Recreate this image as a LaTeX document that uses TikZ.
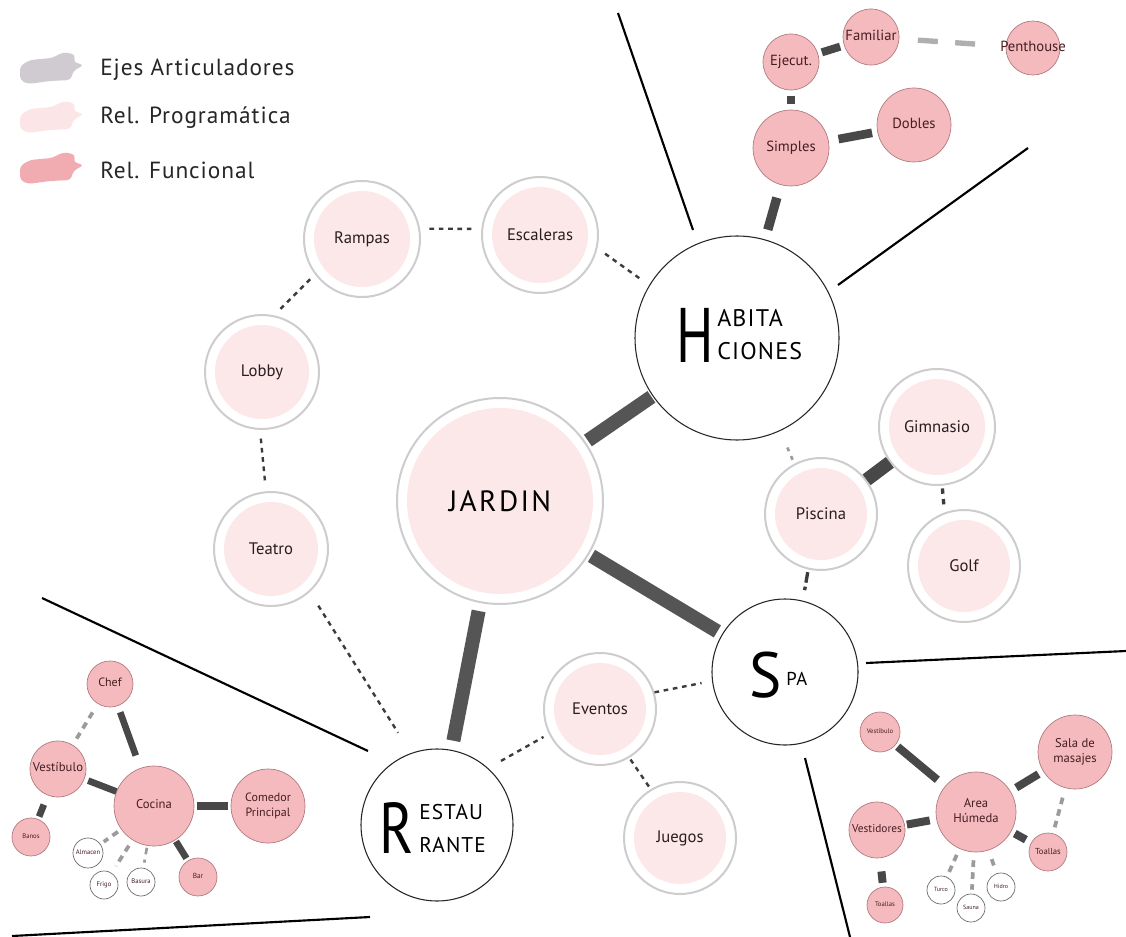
\documentclass[tikz,border=0pt]{standalone}
\usepackage{fontspec}
\setmainfont{PT Sans}
\definecolor{pinkfill}{RGB}{252,231,233}
\definecolor{ringgray}{RGB}{205,205,205}
\definecolor{pinksolid}{RGB}{244,186,189}
\definecolor{pinkedge}{RGB}{175,120,125}
\definecolor{axisgray}{RGB}{85,85,85}
\definecolor{bargray}{RGB}{72,72,72}
\definecolor{dashdark}{RGB}{60,60,60}
\definecolor{dashlight}{RGB}{155,155,155}
\definecolor{txt}{RGB}{40,30,32}
\definecolor{maroon}{RGB}{70,30,35}
\definecolor{leggray}{RGB}{208,203,208}
\definecolor{legpinkl}{RGB}{252,229,231}
\definecolor{legpink}{RGB}{240,172,177}
\newcommand\zt[1]{\makebox[0pt]{\begin{tabular}{@{}c@{}}#1\end{tabular}}}
\begin{document}
\begin{tikzpicture}[x=0.75pt,y=-0.75pt,
  ring/.style={circle, inner sep=0pt, minimum size={1.5pt*#1}, draw=ringgray, line width=1.5pt, fill=white, text=txt,
    font=\fontsize{12.5}{14}\selectfont,
    path picture={\fill[pinkfill] (path picture bounding box.center) circle[radius={0.75pt*(#1-10)}];}},
  bigc/.style={circle, inner sep=0pt, minimum size={1.5pt*#1}, draw=black!85, line width=0.8pt, fill=white},
  sol/.style={circle, inner sep=0pt, minimum size={1.5pt*#1}, draw=pinkedge, line width=0.5pt, fill=pinksolid, text=maroon},
  wsol/.style={circle, inner sep=0pt, minimum size={1.5pt*#1}, draw=black!60, line width=0.5pt, fill=white, text=maroon},
  axis/.style={draw=axisgray, line width=10.5pt},
  bar/.style={draw=bargray, line width=#1},
  prog/.style={draw=dashdark, line width=1.8pt, dash pattern=on 3.5pt off 3.5pt},
  lightdash/.style={draw=dashlight, line width=2.8pt, dash pattern=on 5pt off 4pt},
  sector/.style={draw=black, line width=1.6pt},
  legtext/.style={anchor=west, inner sep=0pt, text=black!85, font=\fontsize{17.5}{19}\selectfont\addfontfeature{LetterSpace=4}},
  bigletter/.style={inner sep=0pt, text=black},
  smallcaps/.style={anchor=west, inner sep=0pt, text=black, font=\fontsize{18}{18}\selectfont\addfontfeature{LetterSpace=5}}
]
\useasboundingbox (0,0) rectangle (1126,937);
\fill[white] (0,0) rectangle (1126,937);

% legend
\fill[leggray, rounded corners=3pt] (20,66) -- (30,60) -- (52,58) -- (64,52) -- (76,55) -- (73,62) -- (84,65) -- (73,71) -- (71,80) -- (50,81) -- (28,84) -- (20,80) -- cycle;
\begin{scope}[shift={(0,49)}]
\fill[legpinkl, rounded corners=3pt] (20,66) -- (30,60) -- (52,58) -- (64,52) -- (76,55) -- (73,62) -- (84,65) -- (73,71) -- (71,80) -- (50,81) -- (28,84) -- (20,80) -- cycle;
\end{scope}
\begin{scope}[shift={(0,100)}]
\fill[legpink, rounded corners=3pt] (20,66) -- (30,60) -- (52,58) -- (64,52) -- (76,55) -- (73,62) -- (84,65) -- (73,71) -- (71,80) -- (50,81) -- (28,84) -- (20,80) -- cycle;
\end{scope}
\node[legtext] (leg1) at (100,70) {Ejes Articuladores};
\node[legtext] (leg2) at (100,118) {Rel. Programática};
\node[legtext] (leg3) at (100,170) {Rel. Funcional};

% sector lines
\draw[sector] (618,13) -- (693,230);
\draw[sector] (838,285) -- (1028,148);
\draw[sector] (866,663) -- (1126,651);
\draw[sector] (805,758) -- (850,937);
\draw[sector] (42,598) -- (368,751);
\draw[sector] (12,936) -- (370,917);

% main nodes
\node[bigc=102] (hab) at (737,338) {};
\node[bigc=73] (spa) at (785,672) {};
\node[bigc=76] (rest) at (437,825) {};
\node[ring=103, font=\fontsize{22}{26}\selectfont\addfontfeature{LetterSpace=8}, text=black] (jardin) at (500,501) {JARDIN};

\node[bigletter, font=\fontsize{58}{58}\selectfont] (habH) at (695,335) {\scalebox{0.72}[1]{H}};
\node[smallcaps] (habA) at (717,318.5) {ABITA};
\node[smallcaps] (habC) at (717,351) {CIONES};
\node[bigletter, font=\fontsize{48}{48}\selectfont] (spaS) at (766,675) {\scalebox{0.95}[1]{S}};
\node[smallcaps, font=\fontsize{14}{14}\selectfont\addfontfeature{LetterSpace=5}] (spaP) at (786,679) {PA};
\node[bigletter, font=\fontsize{54}{54}\selectfont] (restR) at (397,828) {\scalebox{0.8}[1]{R}};
\node[smallcaps, font=\fontsize{16}{16}\selectfont\addfontfeature{LetterSpace=5}] (restE) at (419,812.5) {ESTAU};
\node[smallcaps, font=\fontsize{16}{16}\selectfont\addfontfeature{LetterSpace=5}] (restN) at (419,845.5) {RANTE};

% programmatic rings
\node[ring=58] (rampas) at (362,239) {Rampas};
\node[ring=58] (escaleras) at (540,235) {Escaleras};
\node[ring=57] (lobby) at (262,372) {Lobby};
\node[ring=57] (teatro) at (271,549) {Teatro};
\node[ring=56] (eventos) at (600,709) {Eventos};
\node[ring=56] (juegos) at (680,838) {Juegos};
\node[ring=56] (piscina) at (821,514) {Piscina};
\node[ring=58] (gimnasio) at (937,427) {Gimnasio};
\node[ring=56] (golf) at (964,566) {Golf};

% habitaciones cluster
\begin{scope}[every node/.append style={font=\fontsize{11}{12}\selectfont}]
\node[sol=28] (familiar) at (871,37) {\zt{Familiar}};
\node[sol=28] (ejecut) at (791,62) {\zt{Ejecut.}};
\node[sol=38] (simples) at (791,148) {\zt{Simples}};
\node[sol=37] (dobles) at (914,125) {\zt{Dobles}};
\node[sol=27] (penthouse) at (1033,48) {\zt{Penthouse}};
\end{scope}

% restaurante cluster
\node[sol=23, font=\fontsize{9}{10}\selectfont] (chef) at (110,684) {\zt{Chef}};
\node[sol=28, font=\fontsize{9.5}{11}\selectfont] (vestr) at (58,769) {\zt{Vestíbulo}};
\node[sol=40, font=\fontsize{9.5}{11}\selectfont] (cocina) at (154,806) {\zt{Cocina}};
\node[sol=37, font=\fontsize{9}{11}\selectfont] (comedor) at (268,806) {\zt{Comedor\\Principal}};
\node[sol=19, font=\fontsize{5}{6}\selectfont] (banos) at (31,837) {\zt{Banos}};
\node[sol=19, font=\fontsize{5.5}{6}\selectfont] (bar) at (198,877) {\zt{Bar}};
\node[wsol=15, font=\fontsize{5}{6}\selectfont] (almacen) at (88,853) {\zt{Almacen}};
\node[wsol=14, font=\fontsize{5}{6}\selectfont] (frigo) at (104,885) {\zt{Frigo}};
\node[wsol=14, font=\fontsize{5}{6}\selectfont] (basura) at (141,882) {\zt{Basura}};

% spa cluster
\node[sol=20, font=\fontsize{5}{6}\selectfont] (vests) at (880,732) {\zt{Vestíbulo}};
\node[sol=40, font=\fontsize{9.5}{11.5}\selectfont] (area) at (976,812) {\zt{Area\\Húmeda}};
\node[sol=37, font=\fontsize{9.5}{11.5}\selectfont] (sala) at (1075,752) {\zt{Sala de\\masajes}};
\node[sol=28, font=\fontsize{8.5}{10}\selectfont] (vestid) at (877,830) {\zt{Vestidores}};
\node[sol=19, font=\fontsize{6.5}{8}\selectfont] (toallasr) at (1048,852) {\zt{Toallas}};
\node[sol=18, font=\fontsize{5}{6}\selectfont] (toallasb) at (885,905) {\zt{Toallas}};
\node[wsol=14, font=\fontsize{4.5}{5}\selectfont] (turco) at (941,890) {\zt{Turco}};
\node[wsol=14, font=\fontsize{4.5}{5}\selectfont] (sauna) at (971,908) {\zt{Sauna}};
\node[wsol=14, font=\fontsize{4.5}{5}\selectfont] (hidro) at (1001,887) {\zt{Hidro}};

% main axes
\draw[axis, shorten <=2pt, shorten >=1pt] (jardin) -- (hab);
\draw[axis, shorten <=2pt, shorten >=4pt] (jardin) -- (spa);
\draw[axis, shorten <=6pt, shorten >=7pt] (jardin) -- (rest);

% programmatic links
\draw[prog, shorten <=7pt, shorten >=7pt] (rampas.10) -- (escaleras.174);
\draw[prog, shorten <=5pt, shorten >=4.5pt] (rampas.217) -- (lobby.78);
\draw[prog, shorten <=6.5pt, shorten >=6pt] (lobby.268) -- (teatro.95);
\draw[prog, shorten <=12pt, shorten >=18pt] (teatro.312) -- (rest.110);
\draw[prog, shorten <=7pt, shorten >=7pt] (escaleras.347) -- (hab.149);
\draw[prog, shorten <=11pt, shorten >=4.5pt] (rest.48) -- (eventos.206);
\draw[prog, shorten >=8pt] (eventos.17) -- (spa.187);
\draw[prog, shorten <=1.5pt] (eventos.301) -- (juegos.121);
\draw[draw=dashlight, line width=2pt, dash pattern=on 3pt off 4pt, shorten <=13.5pt, shorten >=2pt] (hab.295) -- (piscina.118);
\draw[draw=dashdark, line width=2.5pt, dash pattern=on 8pt off 3pt, shorten <=2pt, shorten >=8pt] (piscina.257) -- (spa.76);
\draw[draw=dashdark, line width=2.5pt, dash pattern=on 4pt off 4pt, shorten <=2pt, shorten >=4.5pt] (gimnasio.275) -- (golf.110);
\draw[bar=10pt] (piscina) -- (gimnasio);

% habitaciones cluster links
\draw[bar=6pt, shorten <=3pt, shorten >=3pt] (ejecut) -- (familiar);
\draw[bar=6.5pt, shorten <=4pt, shorten >=4pt] (ejecut) -- (simples);
\draw[bar=6.5pt, shorten <=7.5pt, shorten >=4pt] (simples) -- (dobles);
\draw[bar=7pt, shorten <=10pt, shorten >=7.5pt] (simples) -- (hab);
\draw[draw=dashlight, line width=4pt, dash pattern=on 15pt off 13pt, shorten <=14pt, shorten >=23pt, opacity=0.8] (familiar) -- (penthouse);

% restaurante cluster links
\draw[bar=5pt, shorten <=5pt, shorten >=10pt] (chef) -- (cocina);
\draw[lightdash, shorten <=7.5pt, shorten >=5pt] (chef) -- (vestr);
\draw[bar=5pt, shorten <=3pt] (vestr) -- (cocina);
\draw[bar=5pt, shorten <=7.5pt, shorten >=2pt] (vestr) -- (banos);
\draw[bar=6pt, shorten <=2pt, shorten >=2pt] (cocina) -- (comedor);
\draw[bar=5pt, shorten <=1pt, shorten >=2pt] (cocina) -- (bar);
\draw[lightdash, shorten <=3pt, shorten >=3pt] (cocina) -- (almacen);
\draw[lightdash, shorten <=5pt, shorten >=6pt] (cocina) -- (frigo);
\draw[lightdash, line width=2pt, shorten <=1.5pt, shorten >=4pt] (cocina) -- (basura);

% spa cluster links
\draw[bar=6pt, shorten <=2pt, shorten >=7.5pt] (vests) -- (area);
\draw[bar=6pt, shorten <=5pt, shorten >=4pt] (area) -- (sala);
\draw[lightdash, shorten <=7.5pt, shorten >=4pt] (sala) -- (toallasr);
\draw[bar=6pt, shorten <=3pt, shorten >=4.5pt] (area) -- (toallasr);
\draw[bar=6pt, shorten <=5pt, shorten >=1.5pt] (area) -- (vestid);
\draw[bar=6pt, shorten <=10pt, shorten >=3pt] (vestid) -- (toallasb);
\draw[lightdash, shorten <=5pt] (area) -- (turco);
\draw[lightdash, shorten <=6pt, shorten >=3pt] (area) -- (sauna);
\draw[lightdash, shorten <=7pt, shorten >=3pt] (area) -- (hidro);
\end{tikzpicture}
\end{document}
